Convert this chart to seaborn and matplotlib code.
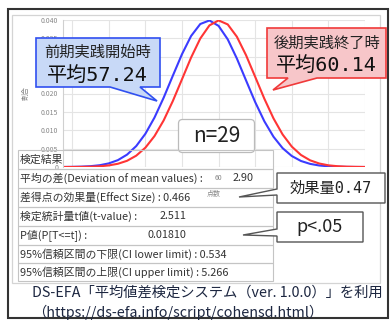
import numpy as np
import pandas as pd
import matplotlib
matplotlib.use("Agg")
import matplotlib.pyplot as plt
from matplotlib.patches import Polygon, Rectangle, FancyBboxPatch
from matplotlib.ticker import FixedLocator, FixedFormatter
import seaborn as sns

# density curves (score vs. proportion)
scores = [17.5, 20, 22.5, 25, 27.5, 30, 32.5, 35, 37.5, 40, 42.5, 45, 47.5, 50,
          52.5, 55, 57.5, 60, 62.5, 65, 67.5, 70, 72.5, 75, 77.5, 80, 82.5, 85,
          87.5, 90, 92.5, 95, 97.5, 100]
before = [0.00001, 0.00004, 0.0001, 0.00022, 0.00048, 0.00098, 0.00187, 0.00337,
          0.00569, 0.00903, 0.01346, 0.01886, 0.02483, 0.03069, 0.03566, 0.03891,
          0.03988, 0.0384, 0.03474, 0.02952, 0.02357, 0.01767, 0.01245, 0.00824,
          0.00512, 0.00299, 0.00164, 0.00085, 0.00041, 0.00019, 0.00008, 0.00003,
          0.00001, 0.0]
after = [0.0, 0.00001, 0.00003, 0.00008, 0.00019, 0.00043, 0.00088, 0.00169,
         0.00308, 0.00525, 0.00842, 0.01268, 0.01795, 0.02386, 0.0298, 0.03496,
         0.03853, 0.03989, 0.0388, 0.03545, 0.03043, 0.02454, 0.01859, 0.01323,
         0.00884, 0.00555, 0.00328, 0.00182, 0.00095, 0.00046, 0.00021, 0.00009,
         0.00004, 0.00001]

# labels hidden behind the table / callouts in the original are left blank
x_ticks = [20, 30, 40, 50, 60, 70, 80, 90, 100]
x_ticklabels = ["", "", "", "", "60", "", "", "", ""]
y_ticks = [0, 0.005, 0.010, 0.015, 0.020, 0.025, 0.030, 0.035, 0.040]
y_ticklabels = ["0", "0.005", "0.010", "0.015", "0.020", "", "", "0.035", "0.040"]

label_before = ["前期実践開始時", "平均57.24"]
label_after = ["後期実践終了時", "平均60.14"]
n_text = "n=29"
effect_text = "効果量0.47"
p_text = "p<.05"

table_labels = ["検定結果",
                "平均の差(Deviation of mean values) :",
                "差得点の効果量(Effect Size) : 0.466",
                "検定統計量t値(t-value) :",
                "P値(P[T<=t]) :",
                "95%信頼区間の下限(CI lower limit) : 0.534",
                "95%信頼区間の上限(CI upper limit) : 5.266"]
table_values = ["", "2.90", "", "2.511", "0.01810", "", ""]

source_lines = ["DS-EFA「平均値差検定システム（ver. 1.0.0）」を利用",
                "（https://ds-efa.info/script/cohensd.html）"]

df = pd.DataFrame({
    "score": scores * 2,
    "density": before + after,
    "phase": ["before"] * len(scores) + ["after"] * len(scores),
})

sns.set_style("white")
plt.rcParams["font.family"] = ["Noto Sans CJK JP", "DejaVu Sans"]

W, H = 392, 325
fig = plt.figure(figsize=(W / 100, H / 100), dpi=100)
ax = fig.add_axes([63 / W, 1 - 167 / H, 302 / W, 147 / H])

sns.lineplot(data=df, x="score", y="density", hue="phase", ax=ax,
             palette={"before": "#3b3bff", "after": "#ff3535"}, linewidth=1.5,
             legend=False)

ax.set_xlim(17.5, 100)
ax.set_ylim(0, 0.040)
ax.xaxis.set_major_locator(FixedLocator(x_ticks))
ax.xaxis.set_major_formatter(FixedFormatter(x_ticklabels))
ax.yaxis.set_major_locator(FixedLocator(y_ticks))
ax.yaxis.set_major_formatter(FixedFormatter(y_ticklabels))
ax.grid(True, color="#e4e4e4", linewidth=0.8)
ax.tick_params(axis="both", length=0, labelsize=5, labelcolor="#888888")
ax.tick_params(axis="x", pad=5)
ax.tick_params(axis="y", pad=3.5)
ax.set_xlabel("点数", fontsize=5, color="#888888", labelpad=6)
ax.set_ylabel("割合", fontsize=5, color="#888888")
ax.yaxis.set_label_coords(-0.11, 0.5)
for side in ["top", "right", "bottom"]:
    ax.spines[side].set_visible(False)
ax.spines["left"].set_color("#d0d0d0")

# overlay in pixel coordinates for the annotations
ov = fig.add_axes([0, 0, 1, 1], zorder=5)
ov.set_xlim(0, W)
ov.set_ylim(H, 0)
ov.axis("off")

# frames
ov.add_patch(Rectangle((12, 15), 368, 268, fill=False, edgecolor="#d4d4d4", linewidth=0.9))
ov.add_patch(Rectangle((8.5, 8.5), 380, 309, fill=False, edgecolor="#333333", linewidth=1.5))

mono = ["DejaVu Sans Mono", "Noto Sans CJK JP"]

# blue callout
ov.add_patch(Polygon([(36, 38), (160, 38), (160, 87), (140, 87), (157, 101), (110, 87), (36, 87)],
                     closed=True, facecolor="#c8d9f7", edgecolor="#3050f0", linewidth=1.2))
ov.text(98, 52, label_before[0], fontsize=11, ha="center", va="center", color="#222222")
ov.text(97, 75, label_before[1], fontsize=14.5, ha="center", va="center", color="#111111",
        family=mono)

# red callout
ov.add_patch(Polygon([(267, 28), (386, 28), (386, 78), (317, 78), (273, 90), (288, 78), (267, 78)],
                     closed=True, facecolor="#f7c6c9", edgecolor="#f03a3a", linewidth=1.2))
ov.text(327, 43, label_after[0], fontsize=11, ha="center", va="center", color="#222222")
ov.text(326, 65, label_after[1], fontsize=14.5, ha="center", va="center", color="#111111",
        family=mono)

# n box
ov.add_patch(FancyBboxPatch((180, 121), 73, 30, boxstyle="round,pad=1.5,rounding_size=4",
                            facecolor="white", edgecolor="#bbbbbb", linewidth=0.9))
ov.text(216.5, 136, n_text, fontsize=15, ha="center", va="center", color="#222222")

# result table
row_edges = [150, 168.5, 187.5, 206.5, 225.5, 244.5, 263, 281]
for i, (lab, val) in enumerate(zip(table_labels, table_values)):
    top, bot = row_edges[i], row_edges[i + 1]
    ov.add_patch(Rectangle((18, top), 255, bot - top, fill=False, edgecolor="#c4c4c4", linewidth=0.8))
    yc = (top + bot) / 2
    ov.text(20, yc, lab, fontsize=7.8, ha="left", va="center", color="#333333")
    if val:
        if i == 1:
            ov.text(233, yc, val, fontsize=7.8, ha="left", va="center", color="#333333")
        else:
            ov.text(186, yc, val, fontsize=7.8, ha="right", va="center", color="#333333")

# effect size callout
ov.add_patch(Polygon([(277, 173), (385, 173), (385, 203), (277, 203), (277, 195), (239, 197), (277, 189)],
                     closed=True, facecolor="white", edgecolor="#555555", linewidth=1.0))
ov.text(331, 188, effect_text, fontsize=11, ha="center", va="center", color="#222222", family=mono)

# p callout
ov.add_patch(Polygon([(277, 212), (363, 212), (363, 242), (277, 242), (277, 236), (243, 235), (277, 229)],
                     closed=True, facecolor="white", edgecolor="#555555", linewidth=1.0))
ov.text(320, 227, p_text, fontsize=13, ha="center", va="center", color="#222222")

# source note
ov.text(32, 293, source_lines[0], fontsize=10.3, ha="left", va="center", color="#1c2640")
ov.text(32, 312, source_lines[1], fontsize=10.3, ha="left", va="center", color="#1c2640")

fig.savefig("out.png", dpi=100, facecolor="white")
